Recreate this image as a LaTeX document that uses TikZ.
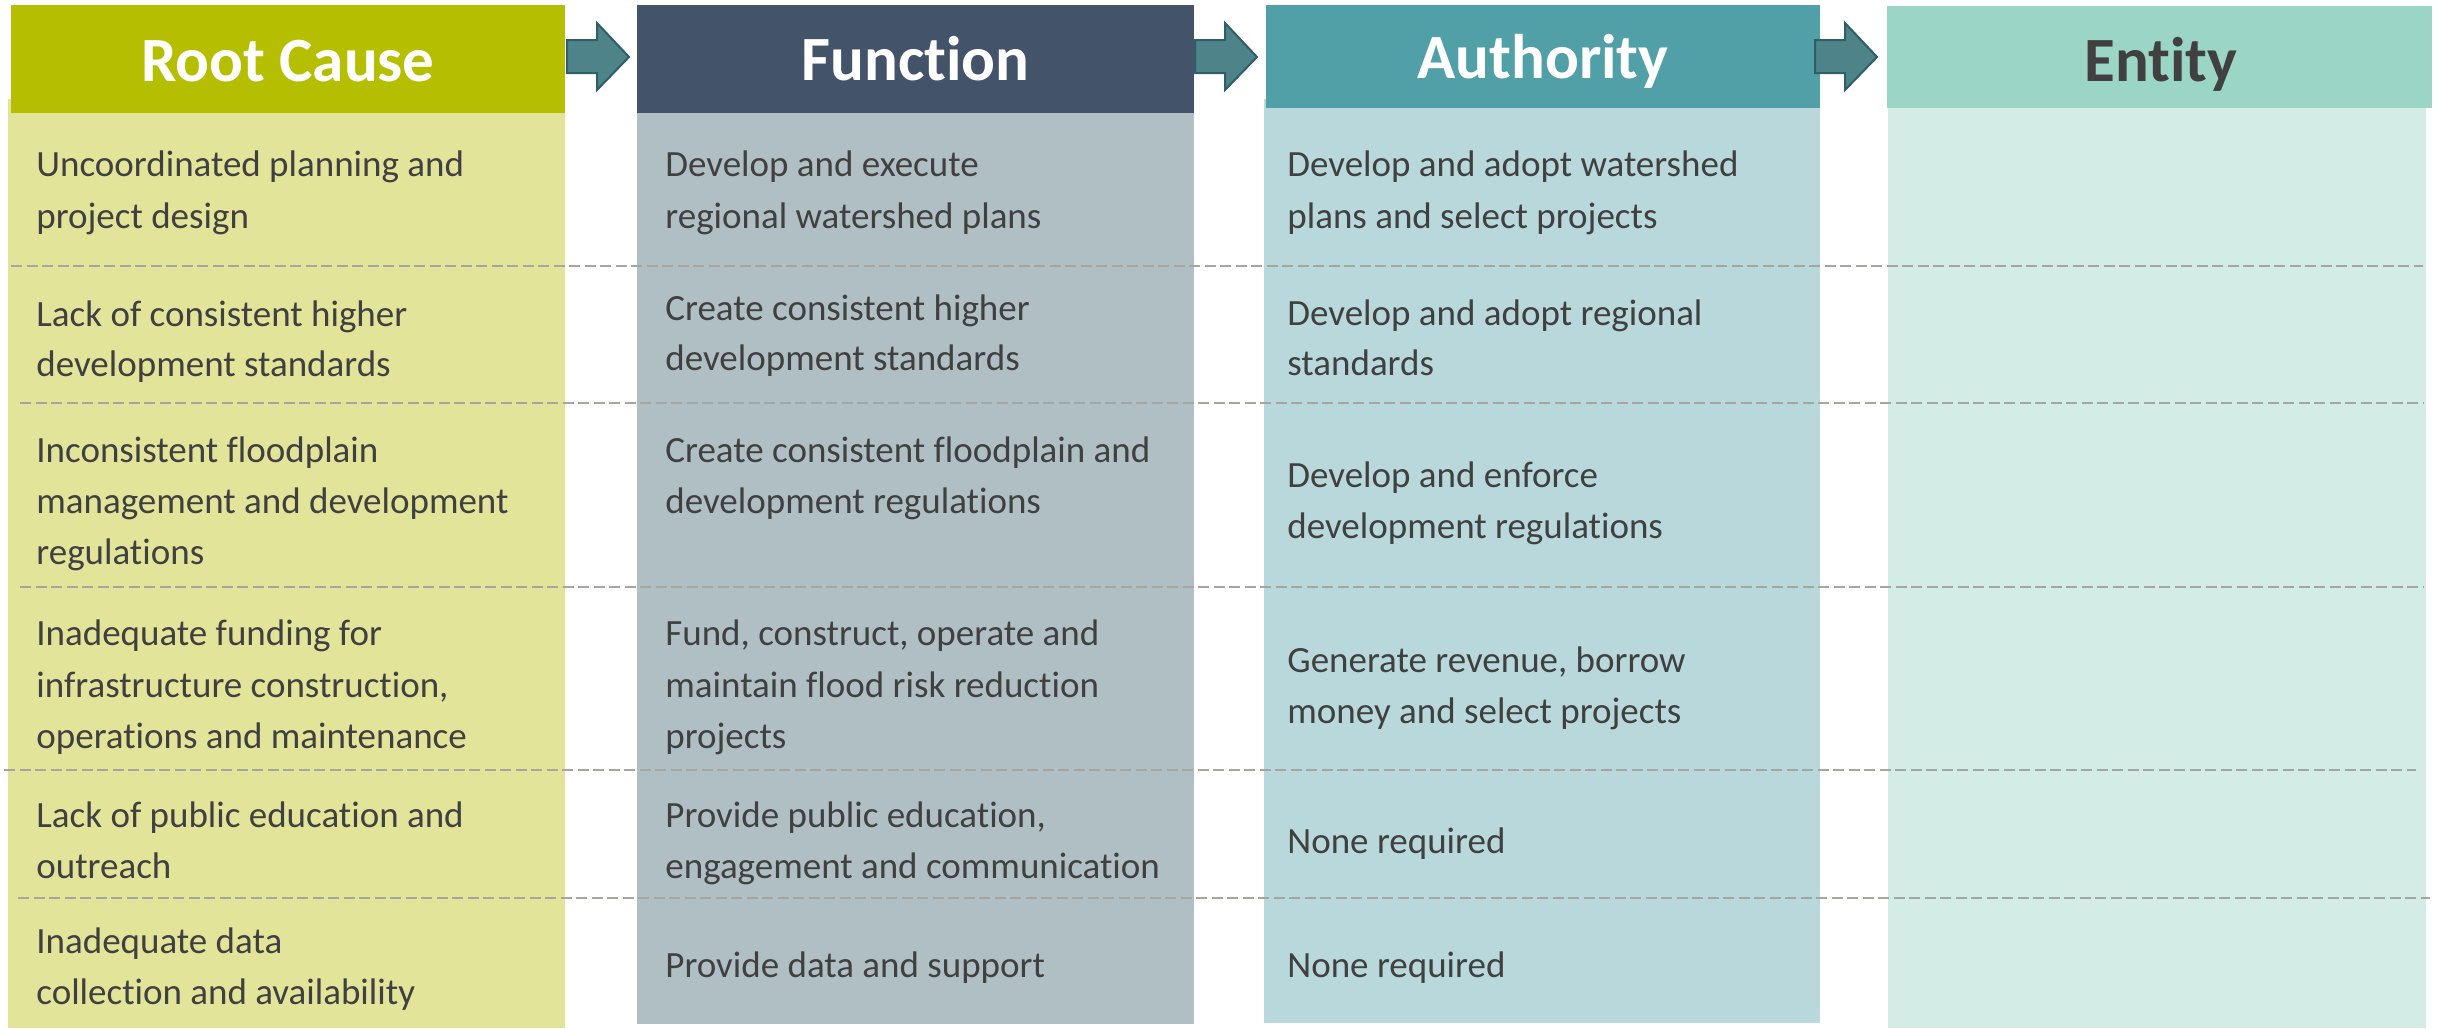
\documentclass[tikz,border=0pt]{standalone}
\usepackage{fontspec}
\setmainfont{Carlito}[Ligatures=NoCommon]
\definecolor{rchead}{HTML}{B5BF00}
\definecolor{rcbody}{HTML}{E2E499}
\definecolor{fhead}{HTML}{435369}
\definecolor{fbody}{HTML}{AFBFC3}
\definecolor{ahead}{HTML}{519FA7}
\definecolor{abody}{HTML}{B8D8DB}
\definecolor{ehead}{HTML}{9BD5C6}
\definecolor{ebody}{HTML}{D3ECE5}
\definecolor{arrfill}{HTML}{4E838A}
\definecolor{arrdraw}{HTML}{2E5E66}
\definecolor{txt}{HTML}{404040}
\definecolor{dashc}{HTML}{A6A6A0}
\tikzset{
  hdrbox/.style={rectangle, inner sep=0pt, draw=none},
  hdrtext/.style={anchor=base, inner sep=0pt, font=\fontsize{31.5}{36}\selectfont\bfseries},
  bodytext/.style={anchor=base west, inner sep=0pt, text=txt, font=\fontsize{18.5}{22}\selectfont},
  sepline/.style={draw=dashc, line width=1pt, dash pattern=on 5.5pt off 2.25pt},
  blockarrow/.style={fill=arrfill, draw=arrdraw, line width=1pt, line join=miter}
}
\newcommand{\tl}[4]{\node[bodytext] (#1) at (#2,#3) {#4};}
\newcommand{\barrow}[1]{\draw[blockarrow] (#1,40) -- (#1+30,40) -- (#1+30,23) -- (#1+62,57) -- (#1+30,90) -- (#1+30,73) -- (#1,73) -- cycle;}
\begin{document}
\begin{tikzpicture}[x=0.5pt,y=-0.5pt]
\useasboundingbox (0,0) rectangle (2440,1028);
% bodies
\fill[rcbody] (8,99) rectangle (565,1028);
\fill[fbody] (637,113) rectangle (1194,1024);
\fill[abody] (1264,99) rectangle (1820,1023);
\fill[ebody] (1888,108) rectangle (2426,1028);
% separators
\draw[sepline] (11,266) -- (2423,266);
\draw[sepline] (20,403) -- (2423,403);
\draw[sepline] (20,587) -- (2423,587);
\draw[sepline] (4,770) -- (2416,770);
\draw[sepline] (18,898) -- (2430,898);
% headers
\node[hdrbox, fill=rchead, minimum width=277pt, minimum height=54pt] (rc) at (288,59) {};
\node[hdrbox, fill=fhead, minimum width=278.5pt, minimum height=54pt] (fn) at (915.5,59) {};
\node[hdrbox, fill=ahead, minimum width=277pt, minimum height=51.5pt] (au) at (1543,56.5) {};
\node[hdrbox, fill=ehead, minimum width=272.5pt, minimum height=51pt] (en) at (2159.5,57) {};
\node[hdrtext, text=white] (rct) at (288,81) {Root Cause};
\node[hdrtext, text=white] (fnt) at (915.5,80) {Function};
\node[hdrtext, text=white] (aut) at (1543,78) {Authority};
\node[hdrtext, text=txt] (ent) at (2161,81) {Entity};
% arrows
\barrow{567}
\barrow{1195}
\barrow{1815}
% Root cause texts
\tl{rc1a}{36}{176}{Uncoordinated planning and}
\tl{rc1b}{36}{228}{project design}
\tl{rc2a}{36}{326}{Lack of consistent higher}
\tl{rc2b}{36}{376}{development standards}
\tl{rc3a}{36}{462}{Inconsistent floodplain}
\tl{rc3b}{36}{513}{management and development}
\tl{rc3c}{36}{564}{regulations}
\tl{rc4a}{36}{645}{Inadequate funding for}
\tl{rc4b}{36}{697}{infrastructure construction,}
\tl{rc4c}{36}{748}{operations and maintenance}
\tl{rc5a}{36}{827}{Lack of public education and}
\tl{rc5b}{36}{878}{outreach}
\tl{rc6a}{36}{953}{Inadequate data}
\tl{rc6b}{36}{1004}{collection and availability}
% Function texts
\tl{fn1a}{665}{176}{Develop and execute}
\tl{fn1b}{665}{228}{regional watershed plans}
\tl{fn2a}{665}{320}{Create consistent higher}
\tl{fn2b}{665}{370}{development standards}
\tl{fn3a}{665}{462}{Create consistent floodplain and}
\tl{fn3b}{665}{513}{development regulations}
\tl{fn4a}{665}{645}{Fund, construct, operate and}
\tl{fn4b}{665}{697}{maintain flood risk reduction}
\tl{fn4c}{665}{748}{projects}
\tl{fn5a}{665}{827}{Provide public education,}
\tl{fn5b}{665}{878}{engagement and communication}
\tl{fn6a}{665}{977}{Provide data and support}
% Authority texts
\tl{au1a}{1287}{176}{Develop and adopt watershed}
\tl{au1b}{1287}{228}{plans and select projects}
\tl{au2a}{1287}{325}{Develop and adopt regional}
\tl{au2b}{1287}{375}{standards}
\tl{au3a}{1287}{487}{Develop and enforce}
\tl{au3b}{1287}{538}{development regulations}
\tl{au4a}{1287}{672}{Generate revenue, borrow}
\tl{au4b}{1287}{723}{money and select projects}
\tl{au5a}{1287}{853}{None required}
\tl{au6a}{1287}{977}{None required}
\end{tikzpicture}
\end{document}
